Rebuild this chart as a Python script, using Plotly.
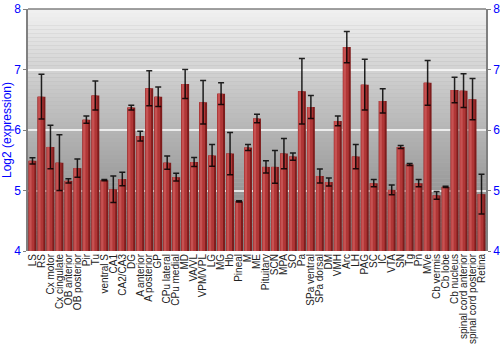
import plotly.graph_objects as go

regions = ["LS", "RS", "Cx motor", "Cx cingulate", "OB anterior", "OB posterior", "Pir", "Tu",
           "ventral S", "CA1", "CA2/CA3", "DG", "A anterior", "A posterior", "GP", "CPu lateral",
           "CPu medial", "MD", "VA/VL", "VPM/VPL", "LG", "MG", "Hb", "Pineal", "M", "ME",
           "Pituitary", "SCN", "MPA", "SO", "Pa", "SPa ventral", "SPa dorsal", "DM", "VMH", "Arc",
           "LH", "PAG", "SC", "IC", "VTA", "SN", "Tg", "Pn", "MVe", "Cb vermis", "Cb lobe",
           "Cb nucleus", "spinal cord anterior", "spinal cord posterior", "Retina"]

expression = [5.49, 6.55, 5.72, 5.46, 5.16, 5.37, 6.17, 6.57,
              5.17, 5.02, 5.19, 6.37, 5.90, 6.69, 6.55, 5.46,
              5.22, 6.76, 5.47, 6.46, 5.58, 6.60, 5.61, 4.82, 5.71, 6.19,
              5.39, 5.39, 5.61, 5.56, 6.64, 6.38, 5.24, 5.14, 6.15, 7.37,
              5.56, 6.75, 5.12, 6.48, 5.01, 5.72, 5.43, 5.12, 6.78, 4.92, 5.06,
              6.66, 6.65, 6.51, 4.94]

error = [0.05, 0.37, 0.36, 0.46, 0.035, 0.15, 0.06, 0.24,
         0.01, 0.22, 0.11, 0.04, 0.08, 0.29, 0.16, 0.11,
         0.065, 0.24, 0.075, 0.36, 0.18, 0.18, 0.35, 0.01, 0.05, 0.07,
         0.10, 0.27, 0.25, 0.06, 0.54, 0.19, 0.115, 0.065, 0.08, 0.26,
         0.20, 0.42, 0.06, 0.20, 0.08, 0.025, 0.015, 0.06, 0.37, 0.065, 0.01,
         0.21, 0.28, 0.34, 0.33]

y_ticks = [4, 5, 6, 7, 8]
y_range = [4, 8]

fig = go.Figure()

heights = [v - y_range[0] for v in expression]

# bar body layers (cylinder-like shading)
fig.add_trace(go.Bar(x=regions, y=heights, base=y_range[0],
                     width=0.88, offset=-0.44,
                     marker=dict(color="#7e1c1c", line=dict(width=0)), hoverinfo="skip"))
fig.add_trace(go.Bar(x=regions, y=heights, base=y_range[0],
                     width=0.66, offset=-0.44,
                     marker=dict(color="#b03636", line=dict(width=0)), hoverinfo="skip"))
fig.add_trace(go.Bar(x=regions, y=heights, base=y_range[0],
                     width=0.26, offset=-0.36,
                     marker=dict(color="#c65252", line=dict(width=0)), hoverinfo="skip"))

# error bars on top
fig.add_trace(go.Scatter(x=regions, y=expression, mode="markers",
                         marker=dict(size=1, opacity=0),
                         error_y=dict(type="data", array=error, visible=True,
                                      color="rgba(0,0,0,0.85)", thickness=1.5, width=3),
                         hoverinfo="skip"))

# invisible trace to drive the right-hand axis
fig.add_trace(go.Scatter(x=regions, y=expression, yaxis="y2", mode="markers",
                         marker=dict(size=1, opacity=0), hoverinfo="skip"))

# background gradient bands
shapes = []
n = 60
for i in range(n):
    y0 = y_range[0] + (y_range[1] - y_range[0]) * i / n
    y1 = y_range[0] + (y_range[1] - y_range[0]) * (i + 1) / n
    t = (i + 0.5) / n
    g = int(128 + (242 - 128) * t ** 1.1)
    shapes.append(dict(type="rect", xref="paper", yref="y", x0=0, x1=1, y0=y0, y1=y1,
                       fillcolor=f"rgb({g},{g},{g})", line=dict(width=0), layer="below"))
shapes.append(dict(type="line", xref="paper", yref="paper", x0=0, x1=1, y0=1, y1=1,
                   line=dict(color="#808080", width=1.5), layer="above"))

fig.update_layout(
    width=500, height=350,
    margin=dict(l=28, r=14, t=9, b=99),
    paper_bgcolor="white", plot_bgcolor="#b0b0b0",
    barmode="overlay", showlegend=False,
    font=dict(family="Liberation Sans, Arial, sans-serif"),
    shapes=shapes,
    xaxis=dict(type="category", tickangle=-90, ticks="", showgrid=False,
               tickmode="array", tickvals=regions, ticktext=regions,
               tickfont=dict(size=10, color="#222222"), automargin=False,
               range=[-0.5, len(regions) - 0.5]),
    yaxis=dict(range=y_range, tickvals=y_ticks, showgrid=True,
               gridcolor="rgba(255,255,255,0.75)", gridwidth=1.5,
               tickfont=dict(size=12, color="blue"), ticks="outside", ticklen=3,
               tickcolor="#808080", showline=True, linecolor="#808080", linewidth=1.5,
               zeroline=False, automargin=False,
               title=dict(text="Log2 (expression)", font=dict(size=12, color="blue"),
                          standoff=2)),
    yaxis2=dict(range=y_range, tickvals=y_ticks, overlaying="y", side="right",
                showgrid=False, tickfont=dict(size=12, color="blue"), ticks="outside",
                ticklen=3, tickcolor="#808080", showline=True, linecolor="#808080",
                linewidth=1.5, zeroline=False, automargin=False),
)

fig.write_html("out.html")
